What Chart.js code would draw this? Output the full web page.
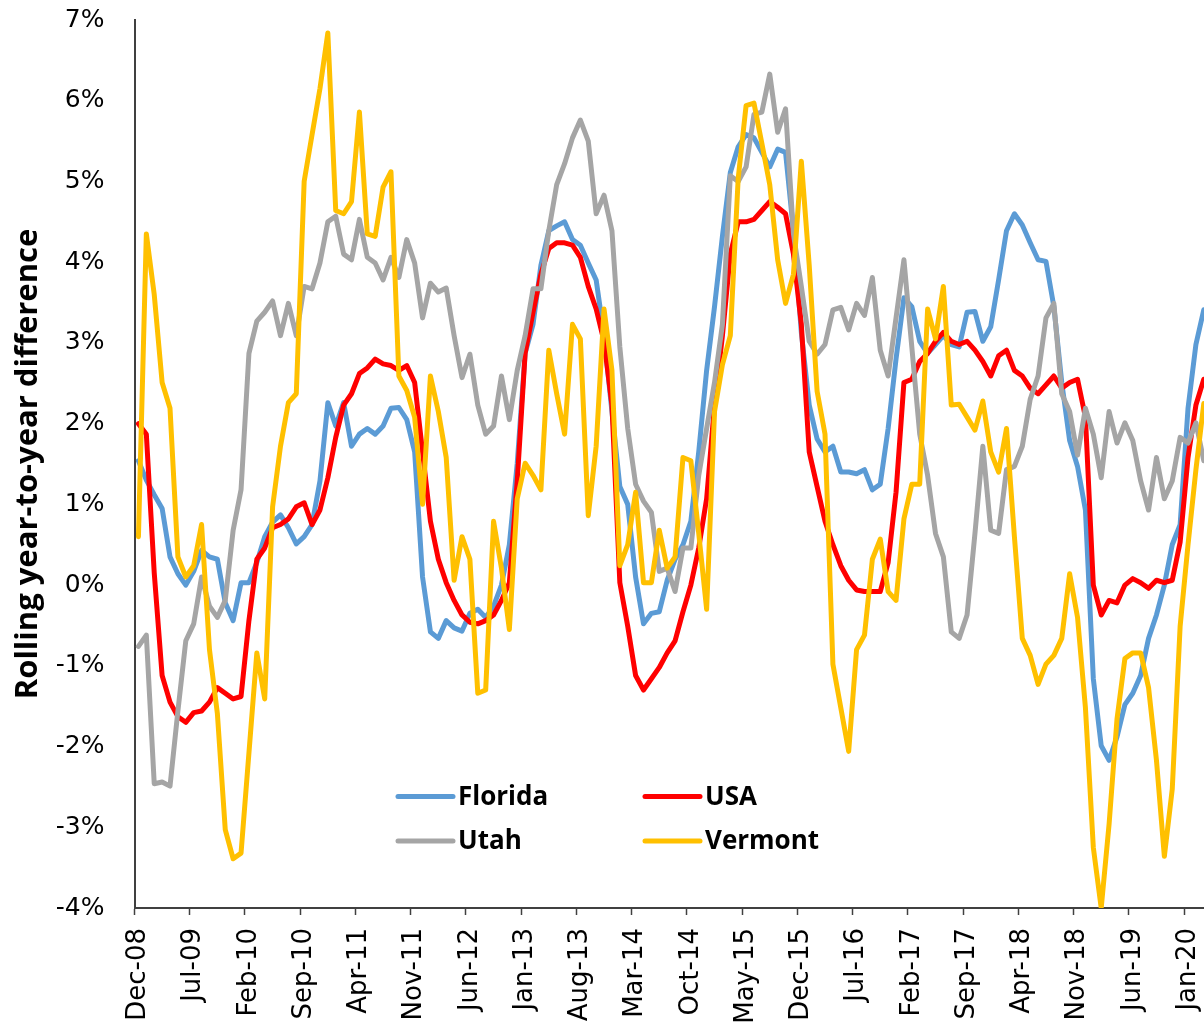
<!DOCTYPE html>
<html>
<head>
<meta charset="utf-8">
<script src="https://cdn.jsdelivr.net/npm/chart.js@4/dist/chart.umd.min.js"></script>
<style>
  html, body { margin: 0; padding: 0; overflow: hidden; background: #fff; }
  #wrap { width: 1204px; height: 1026px; overflow: hidden; position: relative; }
  #chart { display: block; position: absolute; left: 0; top: 0; }
</style>
</head>
<body>
<div id="wrap"><canvas id="chart" width="1212" height="1026"></canvas></div>
<script>
// Monthly rolling year-to-year difference (%), Dec-08 through Mar-20
const MONTH_NAMES = ['Jan','Feb','Mar','Apr','May','Jun','Jul','Aug','Sep','Oct','Nov','Dec'];
const FIRST_YEAR = 2008;
const FIRST_MONTH = 11; // December
const TICK_STEP = 7;    // a labelled tick every seven months

const florida = [
  1.54, 1.30, 1.12, 0.95, 0.35, 0.14, 0.00, 0.17, 0.43, 0.35, 0.32, -0.22,
  -0.44, 0.03, 0.03, 0.28, 0.60, 0.78, 0.87, 0.71, 0.51, 0.60, 0.75, 1.29,
  2.26, 1.97, 2.26, 1.72, 1.87, 1.94, 1.87, 1.97, 2.19, 2.20, 2.05, 1.65,
  0.10, -0.58, -0.66, -0.44, -0.53, -0.57, -0.35, -0.30, -0.40, -0.26, 0.00, 0.50,
  1.51, 2.87, 3.23, 3.96, 4.39, 4.45, 4.50, 4.28, 4.21, 3.99, 3.78, 3.09,
  2.15, 1.22, 1.00, 0.10, -0.48, -0.35, -0.33, 0.06, 0.32, 0.50, 0.79, 1.65,
  2.66, 3.45, 4.32, 5.11, 5.43, 5.58, 5.54, 5.36, 5.18, 5.40, 5.36, 4.39,
  3.13, 2.23, 1.81, 1.65, 1.72, 1.40, 1.40, 1.38, 1.43, 1.18, 1.25, 1.94,
  2.80, 3.56, 3.45, 3.02, 2.87, 2.98, 3.09, 2.98, 2.95, 3.38, 3.39, 3.02,
  3.20, 3.78, 4.39, 4.60, 4.46, 4.24, 4.03, 4.01, 3.45, 2.51, 1.79, 1.47,
  0.93, -1.16, -1.99, -2.17, -1.88, -1.48, -1.34, -1.12, -0.66, -0.37, 0.00, 0.50,
  0.75, 2.19, 2.98, 3.41
];

const usa = [
  2.00, 1.87, 0.15, -1.12, -1.45, -1.63, -1.70, -1.58, -1.56, -1.45, -1.27, -1.34,
  -1.41, -1.38, -0.44, 0.32, 0.46, 0.71, 0.75, 0.82, 0.97, 1.02, 0.75, 0.93,
  1.33, 1.83, 2.23, 2.37, 2.62, 2.69, 2.80, 2.74, 2.72, 2.66, 2.72, 2.51,
  1.65, 0.79, 0.32, 0.03, -0.19, -0.37, -0.46, -0.48, -0.44, -0.37, -0.19, 0.03,
  1.29, 2.87, 3.38, 3.85, 4.17, 4.24, 4.24, 4.21, 4.06, 3.70, 3.42, 3.02,
  2.23, 0.03, -0.51, -1.12, -1.30, -1.16, -1.02, -0.84, -0.69, -0.33, 0.00, 0.46,
  1.07, 2.23, 3.09, 4.10, 4.50, 4.50, 4.53, 4.64, 4.75, 4.68, 4.60, 4.10,
  3.23, 1.65, 1.22, 0.79, 0.50, 0.24, 0.06, -0.06, -0.08, -0.08, -0.08, 0.28,
  1.15, 2.51, 2.55, 2.77, 2.87, 3.02, 3.13, 3.02, 2.98, 3.02, 2.91, 2.77,
  2.59, 2.84, 2.91, 2.66, 2.59, 2.44, 2.37, 2.48, 2.59, 2.44, 2.51, 2.55,
  2.08, 0.00, -0.37, -0.19, -0.22, 0.00, 0.08, 0.03, -0.04, 0.06, 0.03, 0.06,
  0.53, 1.58, 2.23, 2.55
];

const utah = [
  -0.76, -0.62, -2.46, -2.44, -2.49, -1.56, -0.69, -0.48, 0.10, -0.26, -0.40, -0.19,
  0.68, 1.18, 2.87, 3.27, 3.38, 3.52, 3.09, 3.49, 3.09, 3.70, 3.67, 3.99,
  4.50, 4.57, 4.10, 4.03, 4.53, 4.06, 3.99, 3.78, 4.06, 3.81, 4.28, 3.99,
  3.31, 3.74, 3.63, 3.68, 3.09, 2.57, 2.86, 2.23, 1.87, 1.97, 2.59, 2.05,
  2.66, 3.09, 3.67, 3.67, 4.39, 4.96, 5.22, 5.54, 5.76, 5.50, 4.60, 4.83,
  4.39, 2.95, 1.94, 1.25, 1.04, 0.90, 0.17, 0.21, -0.08, 0.46, 0.46, 1.36,
  1.94, 2.51, 3.23, 5.07, 5.00, 5.18, 5.83, 5.86, 6.33, 5.61, 5.90, 4.35,
  3.70, 3.02, 2.86, 2.98, 3.41, 3.44, 3.16, 3.49, 3.34, 3.81, 2.91, 2.59,
  3.31, 4.03, 2.95, 1.87, 1.36, 0.64, 0.35, -0.58, -0.66, -0.37, 0.64, 1.72,
  0.68, 0.64, 1.43, 1.47, 1.72, 2.30, 2.59, 3.31, 3.49, 2.37, 2.15, 1.61,
  2.19, 1.87, 1.33, 2.15, 1.76, 2.01, 1.79, 1.29, 0.93, 1.58, 1.07, 1.29,
  1.83, 1.76, 2.01, 1.54
];

const vermont = [
  0.60, 4.35, 3.60, 2.51, 2.19, 0.35, 0.10, 0.24, 0.75, -0.80, -1.59, -3.03,
  -3.39, -3.32, -2.08, -0.84, -1.41, 0.97, 1.72, 2.26, 2.37, 5.00, 5.58, 6.15,
  6.84, 4.64, 4.60, 4.75, 5.86, 4.35, 4.32, 4.93, 5.12, 2.59, 2.41, 2.08,
  1.00, 2.59, 2.15, 1.58, 0.06, 0.60, 0.32, -1.34, -1.30, 0.79, 0.21, -0.55,
  1.07, 1.51, 1.36, 1.18, 2.91, 2.37, 1.87, 3.23, 3.05, 0.86, 1.72, 3.42,
  2.66, 0.24, 0.50, 1.15, 0.03, 0.03, 0.68, 0.21, 0.35, 1.58, 1.54, 0.64,
  -0.30, 2.15, 2.73, 3.09, 5.04, 5.94, 5.97, 5.47, 4.96, 4.03, 3.49, 3.85,
  5.25, 3.96, 2.40, 1.87, -0.98, -1.52, -2.06, -0.80, -0.62, 0.32, 0.57, -0.08,
  -0.19, 0.82, 1.25, 1.25, 3.42, 3.05, 3.70, 2.23, 2.24, 2.08, 1.92, 2.28,
  1.65, 1.40, 1.94, 0.60, -0.66, -0.87, -1.23, -0.98, -0.87, -0.66, 0.14, -0.40,
  -1.52, -3.25, -4.00, -2.96, -1.66, -0.91, -0.84, -0.84, -1.27, -2.17, -3.36, -2.53,
  -0.51, 0.50, 1.43, 2.25
];

const seriesNames = ['Florida', 'USA', 'Utah', 'Vermont'];
const seriesColors = ['#5B9BD5', '#FF0000', '#A5A5A5', '#FFC000'];
const seriesValues = [florida, usa, utah, vermont];

const yMin = -4, yMax = 7, yStep = 1;

// Month labels "Mon-YY"
const categories = [];
for (let k = 0; k < florida.length; k++) {
  const m = (FIRST_MONTH + k) % 12;
  const yr = FIRST_YEAR + Math.floor((FIRST_MONTH + k) / 12);
  categories.push(MONTH_NAMES[m] + '-' + String(yr % 100).padStart(2, '0'));
}

const AXIS_COLOR = '#404040';
const BOLD_FONT = 'Open Sans';

// Where the plot area should sit on the page
const PLOT_LEFT = 134.5, PLOT_TOP = 20, PLOT_RIGHT = 1207.3, PLOT_BOTTOM = 908;

// Two-column legend drawn inside the plot area
const insideLegend = {
  id: 'insideLegend',
  afterDatasetsDraw(chart) {
    const { ctx, chartArea: a } = chart;
    const colX = [a.left + 263.5, a.left + 510.5];
    const rowY = [a.top + 776.5, a.top + 821];
    const lineLen = 55;
    ctx.save();
    ctx.font = 'bold 26px "' + BOLD_FONT + '"';
    ctx.textBaseline = 'middle';
    ctx.textAlign = 'left';
    chart.data.datasets.forEach((ds, i) => {
      const x = colX[i % 2];
      const y = rowY[Math.floor(i / 2)];
      ctx.strokeStyle = ds.borderColor;
      ctx.lineWidth = 5;
      ctx.lineCap = 'round';
      ctx.beginPath();
      ctx.moveTo(x, y);
      ctx.lineTo(x + lineLen, y);
      ctx.stroke();
      ctx.fillStyle = '#000';
      ctx.fillText(ds.label, x + lineLen + 5, y + 1);
    });
    ctx.restore();
  }
};

function makeConfig(canvasHeight) {
  return {
    type: 'line',
    data: {
      labels: categories,
      datasets: seriesNames.map((name, i) => ({
        label: name,
        data: seriesValues[i],
        borderColor: seriesColors[i],
        backgroundColor: seriesColors[i],
        order: seriesNames.length - i
      }))
    },
    options: {
      responsive: false,
      animation: false,
      devicePixelRatio: 1,
      layout: { padding: { top: 0, right: 0, bottom: 0, left: 0 } },
      plugins: { legend: { display: false }, tooltip: { enabled: false } },
      elements: {
        point: { radius: 0, hoverRadius: 0 },
        line: { tension: 0, borderWidth: 5, borderJoinStyle: 'round', borderCapStyle: 'round' }
      },
      scales: {
        x: {
          type: 'category',
          offset: true,
          grid: {
            offset: true,
            drawOnChartArea: false,
            drawTicks: true,
            tickLength: 7,
            tickWidth: 1.5,
            color: 'rgba(0,0,0,0)',
            tickColor: c => (c.index % TICK_STEP === 0 ? AXIS_COLOR : 'rgba(0,0,0,0)')
          },
          border: { display: true, color: AXIS_COLOR, width: 2 },
          ticks: {
            autoSkip: false,
            maxRotation: 90,
            minRotation: 90,
            padding: 13,
            color: '#000',
            font: { family: 'DejaVu Sans', size: 26 },
            callback: (v, i) => (i % TICK_STEP === 0 ? categories[i] : '')
          },
          afterFit: s => { s.height = canvasHeight.xAxis; }
        },
        y: {
          min: yMin,
          max: yMax,
          ticks: {
            stepSize: yStep,
            padding: 30,
            color: '#000',
            font: { family: 'DejaVu Sans', size: 25 },
            callback: v => v + '%'
          },
          grid: { display: true, drawOnChartArea: false, drawTicks: false, color: 'rgba(0,0,0,0)' },
          border: { display: true, color: AXIS_COLOR, width: 2 },
          title: {
            display: true,
            text: 'Rolling year-to-year difference',
            color: '#000',
            font: { family: BOLD_FONT, weight: 'bold', size: 31 },
            padding: { top: 10, bottom: 0 }
          },
          afterFit: s => { s.width = PLOT_LEFT; }
        }
      }
    },
    plugins: [insideLegend]
  };
}

const canvas = document.getElementById('chart');
let W = 1212, H = 1026;
const sizes = { xAxis: H - PLOT_BOTTOM };
let chart = new Chart(canvas, makeConfig(sizes));

// Grow the canvas so the plot area lands on the intended page position
const ca = chart.chartArea;
const dy = ca.top - PLOT_TOP;
const dx = PLOT_RIGHT - ca.right;
if (Math.abs(dy) > 0.5 || Math.abs(dx) > 0.5) {
  chart.destroy();
  W = Math.round(W + dx);
  H = Math.round(H + dy);
  canvas.width = W;
  canvas.height = H;
  canvas.style.width = W + 'px';
  canvas.style.height = H + 'px';
  canvas.style.top = (-Math.round(dy)) + 'px';
  chart = new Chart(canvas, makeConfig(sizes));
}
</script>
</body>
</html>
